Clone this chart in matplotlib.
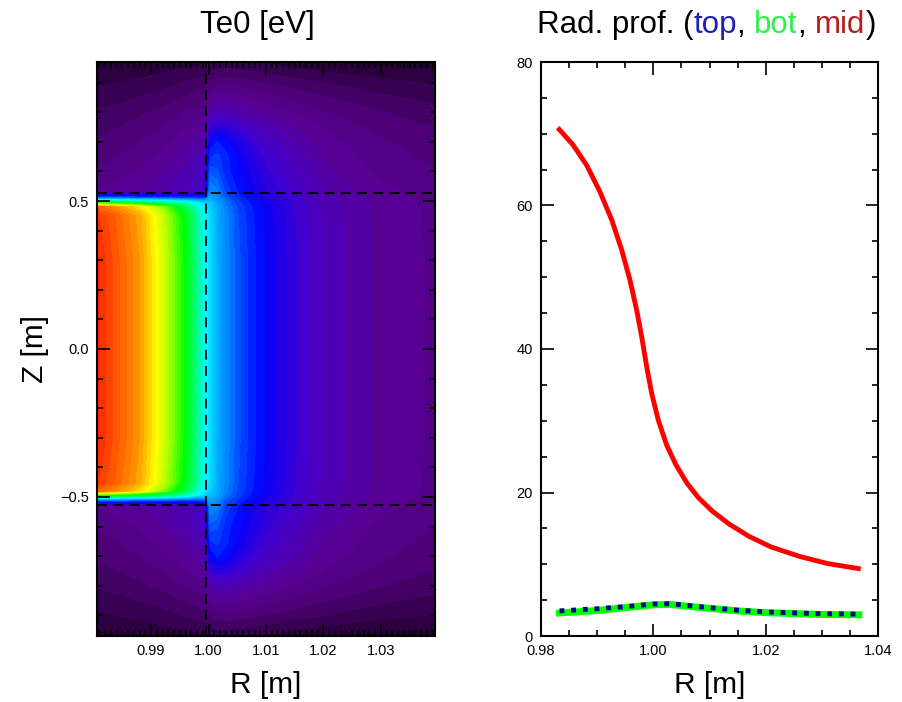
import matplotlib
matplotlib.use('Agg')
import matplotlib.pyplot as plt
import numpy as np
from matplotlib.colors import LinearSegmentedColormap
from matplotlib.ticker import MultipleLocator, FuncFormatter

plt.rcParams['font.family'] = ['Liberation Sans', 'DejaVu Sans']

# ---- left panel: Te0 field on (R, Z) nodes, upper half (mirrored below) ----
r_nodes = [0.9806, 0.984, 0.988, 0.992, 0.996, 0.9993, 1.0003, 1.0015,
           1.003, 1.005, 1.0075, 1.01, 1.015, 1.02, 1.03, 1.0394]
z_upper = [0.0, 0.3, 0.45, 0.48, 0.495, 0.51, 0.53, 0.6, 0.65, 0.7, 0.75,
           0.8, 0.9, 0.97]
te0_upper = [
    [73, 69.8, 65.8, 58.8, 49.5, 35.5, 32.5, 28.5, 25.5, 22.8, 20.5, 18.7, 15.5, 12.7, 10.2, 9.2],
    [73, 69.8, 65.8, 58.8, 49.5, 35.5, 32.5, 28.5, 25.5, 22.8, 20.5, 18.7, 15.5, 12.7, 10.2, 9.2],
    [72, 69, 65, 58, 48.5, 35, 32, 28.3, 25.3, 22.5, 20.2, 18.5, 15.3, 12.6, 10.2, 9.1],
    [69, 66, 62, 55, 45, 33.5, 31, 28, 25, 22.2, 20, 18.3, 15.1, 12.5, 10.2, 9.1],
    [50, 48, 45, 42, 38, 31, 30, 27.5, 24.5, 21.8, 19.6, 18, 14.9, 12.4, 10.1, 9.0],
    [24, 24, 23.5, 23, 22, 22, 28, 26, 23, 21, 19, 17.5, 14.6, 12.2, 10.0, 8.8],
    [9.5, 10, 10.5, 11.5, 12.5, 14, 26, 25, 22, 20, 18, 16.5, 14.1, 12.0, 9.8, 8.7],
    [8.3, 8.8, 9.5, 10.5, 12, 13.5, 23, 22.5, 20.5, 19.2, 17.3, 15.6, 13.2, 11, 9, 8.2],
    [7.8, 8.2, 8.8, 9.8, 11, 12.5, 21, 21.5, 20.3, 18.6, 16.6, 14.8, 12.5, 10.5, 8.7, 7.9],
    [7.2, 7.6, 8.2, 9, 10.3, 11.5, 19, 20, 19.3, 17.3, 15.2, 13.7, 11.7, 10, 8.4, 7.6],
    [6.6, 7.0, 7.5, 8.2, 9.3, 10.3, 15, 16, 16, 14.8, 13.2, 12.2, 10.6, 9.3, 7.8, 7.0],
    [6, 6.3, 6.8, 7.4, 8.3, 9, 11.5, 12.3, 12.3, 11.8, 11, 10.4, 9.2, 8.3, 7.1, 6.4],
    [4.5, 4.7, 5.0, 5.4, 6.0, 6.5, 7.2, 7.6, 7.8, 7.6, 7.3, 7.0, 6.4, 5.9, 5.1, 4.6],
    [3.2, 3.4, 3.6, 3.9, 4.2, 4.5, 4.8, 5.0, 5.0, 4.9, 4.7, 4.5, 4.0, 3.6, 3.1, 2.9],
]
r_sep = 0.9996
z_sep = 0.527

# colour table anchors (Te value, rgb)
cmap_te = [0, 3.6, 7.2, 10, 14.5, 19, 25, 35, 42, 50, 55, 61, 66, 74]
cmap_rgb = [(0, 0, 0), (40, 0, 55), (75, 0, 115), (88, 0, 150), (65, 0, 205),
            (0, 0, 255), (0, 130, 255), (0, 255, 255), (0, 255, 128),
            (0, 255, 0), (140, 255, 0), (255, 255, 0), (255, 150, 0),
            (255, 20, 0)]

# ---- right panel: radial profiles ----
r_mid = [0.98326, 0.98575, 0.98814, 0.99050, 0.99259, 0.99437, 0.99584,
         0.99704, 0.99793, 0.99882, 0.99971, 1.00088, 1.00238, 1.0040,
         1.0060, 1.0080, 1.0105, 1.0135, 1.0170, 1.0210, 1.0260, 1.0310,
         1.0365]
te_mid = [70.6, 68.4, 65.6, 61.9, 58.0, 53.8, 49.6, 45.4, 41.7, 37.5, 33.8,
          30.1, 26.6, 23.9, 21.3, 19.3, 17.4, 15.6, 13.9, 12.4, 11.1, 10.1,
          9.4]
r_tb = [0.9833, 0.990, 0.995, 1.000, 1.003, 1.008, 1.015, 1.020, 1.030, 1.0366]
te_top = [3.5, 3.8, 4.1, 4.45, 4.5, 4.1, 3.6, 3.35, 3.1, 3.05]
te_bot = [3.2, 3.55, 3.95, 4.35, 4.4, 4.0, 3.5, 3.25, 3.0, 2.95]

title_fs = 22.5
label_fs = 21.5


def fmt(nd):
    return FuncFormatter(lambda v, p: f'{v:.{nd}f}'.replace('-', '\u2212'))


def style_ticks(ax):
    ax.tick_params(which='both', direction='in', top=True, right=True,
                   labelsize=10.5, width=1.2, pad=6)
    ax.tick_params(which='major', length=9)
    ax.tick_params(which='minor', length=4)
    for s in ax.spines.values():
        s.set_linewidth(1.5)


fig = plt.figure(figsize=(9.02, 7.02), dpi=100)
ax1 = fig.add_axes([97 / 902, 1 - 636 / 702, 338 / 902, 574 / 702])
ax2 = fig.add_axes([541 / 902, 1 - 636 / 702, 337 / 902, 574 / 702])

z_nodes = np.concatenate([-np.array(z_upper[:0:-1]), z_upper])
te0 = np.vstack([np.array(te0_upper[:0:-1]), np.array(te0_upper)])
vmax = cmap_te[-1]
cmap = LinearSegmentedColormap.from_list(
    'idl', [(t / vmax, np.array(c) / 255) for t, c in zip(cmap_te, cmap_rgb)])
ax1.contourf(r_nodes, z_nodes, te0, levels=np.linspace(0, vmax, 64),
             cmap=cmap, vmin=0, vmax=vmax)
dash = (0, (5.5, 3.5))
ax1.axvline(r_sep, color='black', ls=dash, lw=1.3)
ax1.axhline(z_sep, color='black', ls=dash, lw=1.3)
ax1.axhline(-z_sep, color='black', ls=dash, lw=1.3)
ax1.set_xlim(0.9806, 1.0394)
ax1.set_ylim(-0.97, 0.97)
ax1.set_xticks([0.99, 1.00, 1.01, 1.02, 1.03])
ax1.set_yticks([-0.5, 0.0, 0.5])
ax1.xaxis.set_minor_locator(MultipleLocator(0.001))
ax1.yaxis.set_minor_locator(MultipleLocator(0.1))
ax1.xaxis.set_major_formatter(fmt(2))
ax1.yaxis.set_major_formatter(fmt(1))
style_ticks(ax1)
ax1.set_xlabel('R [m]', fontsize=label_fs, labelpad=9)
ax1.set_ylabel('Z [m]', fontsize=label_fs, labelpad=8)
fig.text(257 / 902, 1 - 40 / 702, 'Te0 [eV]', fontsize=title_fs,
         ha='center', va='bottom')

ax2.plot(r_mid, te_mid, color='#ff0000', lw=3.5)
ax2.plot(r_tb, te_bot, color='#00ff00', lw=5)
ax2.plot(r_tb, te_top, color='#00008c', lw=3.5, ls=(0, (1, 1.4)))
ax2.set_xlim(0.98, 1.04)
ax2.set_ylim(0, 80)
ax2.xaxis.set_major_locator(MultipleLocator(0.02))
ax2.xaxis.set_minor_locator(MultipleLocator(0.005))
ax2.yaxis.set_major_locator(MultipleLocator(20))
ax2.yaxis.set_minor_locator(MultipleLocator(5))
ax2.xaxis.set_major_formatter(fmt(2))
ax2.yaxis.set_major_formatter(fmt(0))
style_ticks(ax2)
ax2.set_xlabel('R [m]', fontsize=label_fs, labelpad=9)

# multi-coloured title, pieces chained left to right
parts = [('Rad. prof. (', 'black'), ('top', '#2020b4'), (', ', 'black'),
         ('bot', '#30f050'), (', ', 'black'), ('mid', '#b42020'),
         (')', 'black')]
prev = fig.text(537 / 902, 1 - 40 / 702, parts[0][0], color=parts[0][1],
                fontsize=title_fs, ha='left', va='bottom')
for s, c in parts[1:]:
    prev = ax2.annotate(s, xy=(1, 0), xycoords=prev, color=c,
                        fontsize=title_fs, ha='left', va='bottom',
                        annotation_clip=False)

fig.savefig('out.png', dpi=100)
